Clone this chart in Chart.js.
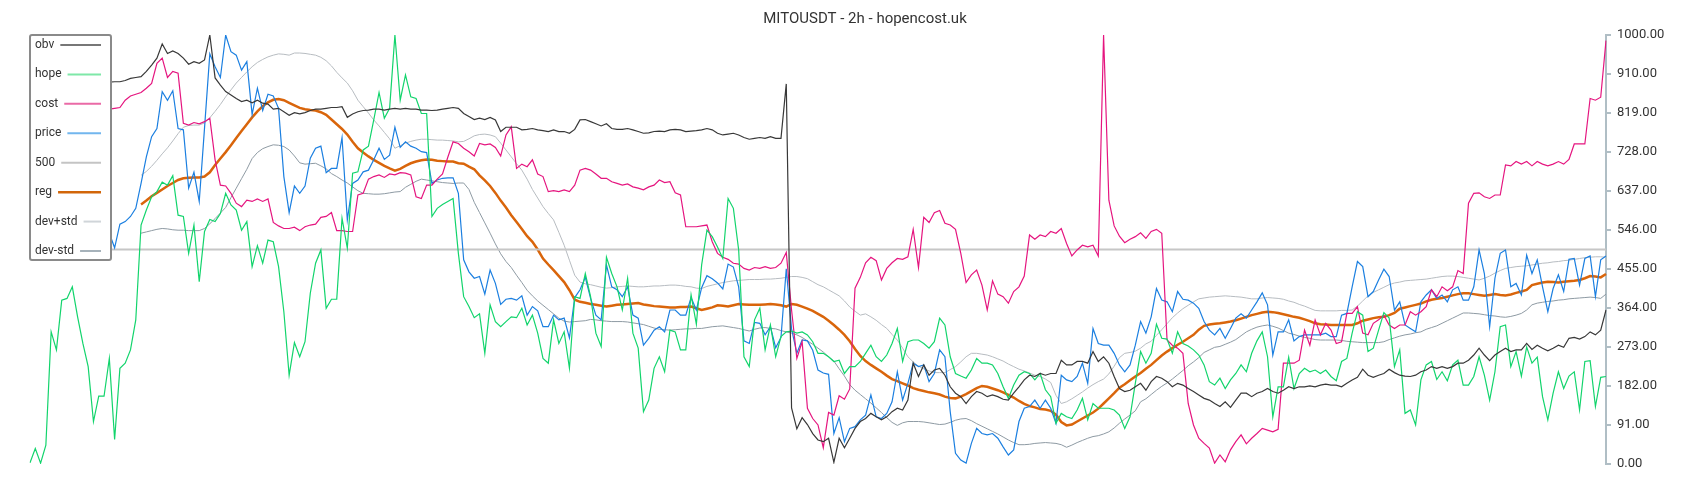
<!DOCTYPE html>
<html>
<head>
<meta charset="utf-8">
<script src="https://cdn.jsdelivr.net/npm/chart.js@4.4.0/dist/chart.umd.min.js"></script>
<style>
  html, body { margin: 0; padding: 0; background: #fff; }
  #wrap { width: 1700px; height: 500px; }
</style>
</head>
<body>
<div id="wrap"><canvas id="chart" width="1700" height="500"></canvas></div>
<script>
// Series values (299 bars of 2h data)
const hope = [
  3, 36, 2, 44, 308, 266, 382, 386, 413, 343,
  281, 227, 99, 158, 158, 246, 57, 223, 235, 266,
  336, 557, 592, 623, 635, 657, 650, 672, 580, 577,
  491, 557, 425, 542, 570, 565, 584, 631, 604, 592,
  545, 565, 460, 509, 468, 522, 518, 460, 355, 207,
  283, 250, 285, 398, 468, 499, 363, 384, 384, 573,
  503, 678, 681, 732, 741, 802, 866, 806, 829, 1000,
  848, 907, 856, 852, 817, 817, 577, 596, 605, 612,
  619, 491, 390, 367, 341, 350, 258, 371, 332, 320,
  332, 343, 341, 363, 324, 347, 305, 246, 235, 336,
  281, 308, 223, 390, 386, 444, 390, 305, 274, 482,
  444, 413, 359, 433, 305, 270, 122, 149, 223, 250,
  215, 312, 308, 266, 266, 394, 326, 464, 545, 530,
  506, 479, 619, 596, 499, 250, 227, 336, 363, 266,
  324, 250, 297, 308, 310, 305, 308, 301, 285, 258,
  258, 250, 239, 242, 211, 227, 227, 239, 258, 277,
  250, 239, 254, 281, 316, 239, 285, 289, 289, 281,
  270, 285, 340, 324, 250, 211, 205, 200, 219, 246,
  235, 235, 231, 211, 180, 153, 184, 207, 215, 211,
  196, 211, 173, 157, 95, 118, 110, 106, 126, 153,
  103, 141, 130, 130, 130, 126, 114, 83, 110, 188,
  262, 235, 258, 326, 293, 291, 258, 308, 281, 275,
  266, 254, 231, 192, 184, 200, 176, 196, 211, 231,
  215, 258, 287, 308, 250, 110, 180, 180, 249, 176,
  211, 223, 215, 219, 211, 219, 204, 194, 239, 246,
  305, 355, 347, 262, 270, 312, 353, 340, 227, 266,
  118, 126, 91, 196, 231, 239, 197, 215, 194, 231,
  242, 184, 184, 204, 250, 207, 149, 215, 320, 324,
  227, 262, 205, 273, 235, 249, 157, 103, 165, 215,
  176, 205, 215, 126, 239, 241, 134, 202, 204
];

const price = [
  null, null, null, null, null, null, null, null, null, null,
  null, null, null, null, null, 538, 504, 559, 565, 577,
  596, 654, 716, 763, 782, 868, 848, 870, 782, 779,
  643, 680, 612, 783, 956, 926, 901, 1000, 961, 953,
  918, 938, 815, 876, 824, 862, 858, 829, 670, 586,
  648, 631, 648, 713, 736, 741, 679, 689, 689, 761,
  569, 654, 662, 681, 685, 709, 736, 710, 720, 785,
  738, 751, 741, 736, 728, 726, 654, 662, 666, 667,
  667, 631, 476, 448, 433, 437, 396, 452, 421, 372,
  384, 386, 382, 392, 347, 367, 357, 320, 320, 347,
  336, 340, 294, 388, 406, 435, 386, 347, 336, 464,
  413, 406, 390, 413, 347, 340, 277, 293, 312, 320,
  308, 359, 359, 347, 347, 388, 359, 411, 439, 432,
  422, 408, 466, 459, 413, 287, 281, 330, 328, 301,
  320, 271, 295, 455, 315, 258, 289, 287, 265, 219,
  212, 209, 71, 108, 52, 83, 87, 103, 114, 161,
  110, 106, 118, 145, 215, 149, 188, 235, 227, 231,
  192, 211, 266, 250, 122, 25, 9, 2, 48, 83,
  71, 68, 71, 60, 40, 21, 33, 99, 130, 134,
  149, 130, 149, 130, 95, 207, 196, 192, 204, 235,
  188, 316, 281, 277, 277, 258, 231, 215, 231, 277,
  332, 305, 343, 409, 382, 378, 355, 402, 384, 382,
  375, 363, 332, 312, 301, 316, 293, 316, 340, 350,
  340, 359, 378, 399, 371, 254, 308, 308, 336, 287,
  297, 301, 301, 301, 301, 305, 297, 297, 347, 351,
  413, 472, 460, 390, 402, 429, 454, 437, 359, 378,
  324, 316, 308, 378, 394, 406, 386, 394, 378, 406,
  413, 382, 382, 413, 499, 444, 320, 433, 491, 499,
  413, 421, 394, 487, 444, 476, 413, 355, 409, 441,
  402, 477, 479, 417, 479, 485, 390, 476, 485
];

const cost = [
  null, null, null, null, null, null, null, null, null, null,
  null, null, null, null, null, 827, 829, 831, 848, 858,
  862, 866, 876, 887, 934, 946, 901, 915, 911, 794,
  790, 796, 793, 798, 806, 709, 650, 648, 631, 608,
  600, 615, 612, 618, 612, 618, 563, 555, 549, 549,
  552, 544, 553, 557, 559, 575, 577, 586, 544, 544,
  542, 542, 627, 631, 664, 670, 674, 668, 676, 674,
  679, 678, 674, 623, 619, 650, 650, 664, 676, 715,
  751, 747, 736, 728, 718, 747, 744, 746, 738, 718,
  767, 786, 689, 699, 693, 709, 676, 670, 635, 637,
  635, 639, 635, 650, 685, 689, 685, 676, 666, 666,
  658, 654, 650, 653, 646, 643, 639, 646, 650, 662,
  656, 658, 632, 627, 553, 553, 553, 555, 557, 518,
  491, 482, 477, 468, 466, 456, 452, 458, 456, 460,
  456, 458, 468, 493, 359, 246, 285, 130, 106, 91,
  38, 120, 114, 159, 151, 175, 410, 435, 469, 482,
  474, 429, 456, 469, 479, 477, 483, 547, 458, 575,
  563, 586, 591, 561, 557, 547, 491, 423, 441, 452,
  417, 359, 427, 396, 390, 375, 402, 413, 438, 534,
  524, 534, 530, 542, 538, 549, 514, 485, 499, 510,
  506, 510, 485, 1000, 615, 555, 531, 516, 524, 530,
  539, 526, 542, 547, 538, 289, 277, 270, 258, 141,
  91, 60, 48, 37, 2, 21, 5, 33, 52, 68,
  47, 60, 71, 83, 79, 75, 81, 235, 235, 235,
  242, 312, 277, 336, 301, 328, 312, 281, 285, 351,
  351, 367, 305, 301, 328, 336, 347, 324, 316, 324,
  324, 355, 347, 355, 367, 406, 390, 413, 404, 413,
  451, 444, 608, 631, 632, 623, 619, 627, 627, 697,
  695, 705, 699, 705, 695, 705, 699, 695, 699, 705,
  699, 710, 746, 746, 746, 852, 848, 855, 987
];

const obv = [
  null, null, null, null, null, null, null, null, null, null,
  null, null, null, null, null, 890, 891, 891, 894, 899,
  901, 903, 915, 930, 946, 979, 957, 963, 957, 946,
  932, 938, 934, 942, 1000, 900, 883, 868, 860, 852,
  845, 848, 842, 848, 841, 839, 827, 829, 821, 813,
  819, 816, 819, 824, 827, 827, 829, 831, 831, 833,
  808, 816, 821, 824, 825, 827, 827, 825, 827, 829,
  827, 829, 827, 827, 825, 825, 824, 825, 827, 829,
  831, 829, 817, 810, 803, 806, 803, 808, 802, 775,
  785, 785, 785, 779, 780, 782, 779, 777, 775, 779,
  775, 775, 771, 780, 802, 803, 798, 793, 788, 793,
  782, 780, 780, 782, 779, 775, 771, 772, 775, 776,
  775, 779, 780, 779, 775, 776, 777, 779, 782, 779,
  771, 767, 769, 771, 767, 761, 757, 759, 761, 759,
  763, 759, 759, 886, 131, 82, 108, 92, 71, 56,
  52, 60, 4, 60, 38, 60, 83, 99, 106, 118,
  110, 103, 110, 122, 130, 126, 149, 235, 204, 231,
  207, 219, 223, 207, 180, 165, 157, 141, 157, 169,
  165, 157, 161, 157, 151, 149, 165, 180, 196, 207,
  204, 211, 207, 211, 211, 242, 231, 231, 239, 239,
  235, 262, 239, 250, 235, 204, 176, 169, 172, 180,
  188, 172, 192, 204, 200, 192, 180, 188, 184, 176,
  169, 161, 153, 149, 141, 134, 145, 132, 149, 165,
  165, 157, 165, 169, 176, 169, 165, 172, 180, 176,
  180, 180, 182, 180, 184, 186, 184, 184, 180, 188,
  196, 202, 221, 207, 202, 207, 211, 221, 213, 207,
  205, 204, 207, 215, 219, 227, 223, 227, 223, 227,
  235, 235, 242, 254, 270, 254, 241, 254, 262, 270,
  262, 266, 266, 281, 267, 277, 270, 264, 270, 277,
  272, 293, 295, 291, 297, 308, 301, 312, 359
];

const reg = [
  null, null, null, null, null, null, null, null, null, null,
  null, null, null, null, null, null, null, null, null, null,
  null, 605, 614, 624, 632, 640, 648, 655, 662, 666,
  667, 668, 668, 670, 680, 697, 712, 727, 743, 760,
  776, 792, 808, 822, 834, 843, 849, 851, 848, 842,
  836, 830, 827, 825, 824, 820, 814, 803, 792, 781,
  768, 751, 736, 726, 717, 709, 702, 695, 689, 684,
  688, 695, 701, 705, 708, 710, 709, 707, 706, 705,
  705, 701, 700, 693, 687, 673, 661, 648, 632, 614,
  598, 580, 564, 548, 531, 518, 500, 479, 465, 452,
  438, 424, 405, 383, 378, 376, 373, 371, 369, 367,
  369, 371, 372, 373, 374, 375, 372, 370, 368, 367,
  366, 365, 365, 366, 366, 367, 363, 359, 362, 365,
  370, 369, 367, 370, 373, 372, 371, 371, 371, 372,
  373, 372, 370, 367, 373, 371, 367, 362, 357, 350,
  343, 334, 324, 313, 301, 286, 268, 252, 240, 231,
  223, 215, 206, 198, 193, 188, 183, 177, 173, 170,
  167, 165, 162, 157, 154, 153, 157, 163, 170, 177,
  182, 180, 176, 172, 167, 161, 155, 147, 140, 135,
  132, 128, 127, 124, 115, 98, 90, 92, 99, 106,
  113, 120, 129, 141, 153, 165, 178, 186, 195, 204,
  212, 222, 231, 242, 253, 262, 270, 278, 285, 293,
  301, 313, 322, 325, 327, 328, 330, 332, 335, 339,
  343, 347, 350, 353, 355, 354, 352, 349, 346, 343,
  341, 337, 333, 328, 326, 325, 324, 324, 324, 324,
  324, 328, 334, 337, 340, 342, 343, 347, 352, 362,
  365, 368, 371, 374, 379, 383, 385, 387, 390, 393,
  396, 398, 398, 396, 394, 392, 394, 396, 394, 393,
  395, 399, 402, 406, 417, 420, 423, 425, 424, 423,
  425, 426, 427, 429, 433, 438, 437, 435, 443
];

const devPlus = [
  null, null, null, null, null, null, null, null, null, null,
  null, null, null, null, null, null, null, null, null, null,
  null, 673, 682, 694, 708, 723, 737, 753, 770, 785,
  789, 790, 790, 795, 807, 822, 838, 856, 872, 888,
  901, 914, 926, 936, 943, 949, 953, 956, 955, 953,
  958, 958, 957, 955, 953, 948, 940, 928, 913, 900,
  888, 870, 848, 833, 818, 802, 788, 773, 758, 736,
  742, 748, 752, 755, 757, 757, 756, 755, 755, 754,
  753, 751, 752, 758, 765, 768, 769, 767, 763, 748,
  732, 716, 700, 685, 664, 640, 620, 600, 584, 569,
  540, 510, 475, 440, 424, 420, 418, 415, 412, 410,
  411, 413, 414, 415, 414, 413, 413, 414, 415, 415,
  416, 417, 417, 416, 414, 413, 410, 409, 414, 417,
  420, 423, 425, 427, 428, 429, 430, 430, 430, 431,
  431, 432, 433, 435, 437, 437, 435, 432, 425, 418,
  413, 406, 399, 392, 380, 366, 356, 347, 350, 343,
  335, 325, 316, 302, 289, 270, 250, 238, 228, 222,
  217, 213, 213, 213, 220, 227, 238, 250, 258, 258,
  256, 254, 250, 245, 240, 233, 227, 221, 217, 212,
  207, 204, 198, 190, 160, 141, 145, 152, 160, 168,
  177, 185, 192, 198, 210, 228, 248, 258, 260, 263,
  270, 280, 286, 300, 313, 327, 341, 352, 362, 370,
  378, 385, 387, 389, 390, 391, 392, 391, 390, 389,
  387, 385, 385, 387, 388, 387, 386, 384, 380, 377,
  372, 368, 363, 358, 357, 357, 357, 357, 358, 358,
  359, 368, 380, 392, 400, 406, 412, 418, 422, 424,
  427, 428, 429, 430, 431, 433, 435, 437, 438, 438,
  437, 435, 433, 431, 429, 433, 438, 445, 451, 456,
  458, 460, 461, 462, 464, 466, 468, 469, 471, 472,
  474, 475, 477, 479, 481, 482, 483, 483, 482
];

const devMinus = [
  null, null, null, null, null, null, null, null, null, null,
  null, null, null, null, null, null, null, null, null, null,
  null, 538, 541, 544, 547, 549, 548, 546, 545, 545,
  544, 544, 544, 549, 560, 572, 585, 598, 621, 643,
  665, 687, 712, 726, 735, 740, 744, 743, 740, 732,
  718, 702, 699, 700, 701, 695, 688, 677, 670, 662,
  655, 646, 637, 631, 630, 629, 629, 630, 632, 634,
  635, 645, 652, 659, 664, 662, 660, 658, 656, 655,
  654, 655, 655, 640, 610, 586, 562, 538, 513, 490,
  472, 458, 440, 423, 405, 392, 380, 370, 360, 350,
  340, 333, 331, 332, 333, 334, 337, 336, 334, 333,
  332, 332, 332, 331, 329, 327, 325, 321, 317, 314,
  313, 312, 313, 314, 315, 315, 316, 316, 318, 320,
  321, 322, 320, 318, 316, 313, 310, 314, 317, 318,
  316, 315, 311, 308, 305, 301, 295, 287, 279, 270,
  261, 250, 240, 222, 205, 185, 172, 162, 152, 142,
  131, 120, 108, 97, 90, 96, 99, 99, 99, 98,
  96, 94, 92, 93, 97, 102, 105, 106, 101, 94,
  88, 82, 76, 70, 63, 56, 50, 45, 45, 46,
  48, 49, 50, 49, 48, 45, 39, 44, 50, 55,
  60, 64, 66, 70, 75, 84, 95, 105, 114, 124,
  145, 152, 162, 172, 181, 189, 198, 208, 218, 229,
  238, 248, 260, 266, 272, 274, 279, 284, 290, 299,
  308, 314, 319, 322, 324, 321, 317, 311, 305, 302,
  298, 295, 293, 290, 289, 289, 289, 289, 288, 286,
  285, 284, 283, 283, 283, 283, 285, 290, 294, 298,
  301, 303, 306, 308, 314, 318, 322, 328, 334, 340,
  346, 352, 352, 351, 350, 348, 346, 345, 343, 342,
  344, 347, 351, 359, 371, 375, 377, 379, 380, 382,
  383, 385, 386, 387, 388, 389, 388, 386, 396
];

// flat reference level, first and last bar
const line500 = [{ x: 0, y: 500 }, { x: 298, y: 500 }];

const labels = hope.map((_, i) => i);
const yTicks = [0, 91, 182, 273, 364, 455, 546, 637, 728, 819, 910, 1000];

const legendItems = [
  { text: 'obv', color: '#777777', width: 2 },
  { text: 'hope', color: '#7ee8a8', width: 2 },
  { text: 'cost', color: '#ea6aa6', width: 2 },
  { text: 'price', color: '#72b6ee', width: 2 },
  { text: '500', color: '#c4c4c4', width: 2 },
  { text: 'reg', color: '#d2660a', width: 2.5 },
  { text: 'dev+std', color: '#d0d5d9', width: 2 },
  { text: 'dev-std', color: '#a6b2ba', width: 2 }
];

// Boxed legend drawn inside the plot, top-left
const boxLegend = {
  id: 'boxLegend',
  afterDraw(chart) {
    const ctx = chart.ctx;
    const x0 = 30, y0 = 35, w = 81, h = 225;
    ctx.save();
    ctx.fillStyle = '#ffffff';
    ctx.strokeStyle = '#8a8a8a';
    ctx.lineWidth = 2;
    ctx.beginPath();
    ctx.roundRect(x0, y0, w, h, 2);
    ctx.fill();
    ctx.stroke();
    ctx.font = '12px Roboto, "Noto Sans", sans-serif';
    ctx.textBaseline = 'middle';
    ctx.textAlign = 'left';
    legendItems.forEach((item, k) => {
      const y = 45 + k * 29.43;
      ctx.fillStyle = '#333333';
      ctx.fillText(item.text, 35, y);
      const tw = ctx.measureText(item.text).width;
      ctx.strokeStyle = item.color;
      ctx.lineWidth = item.width;
      ctx.beginPath();
      ctx.moveTo(35 + tw + 6, y);
      ctx.lineTo(101, y);
      ctx.stroke();
    });
    ctx.restore();
  }
};

function series(label, data, color, width) {
  return {
    label: label,
    data: data,
    borderColor: color,
    backgroundColor: color,
    borderWidth: width,
    pointRadius: 0,
    tension: 0,
    fill: false
  };
}

new Chart(document.getElementById('chart'), {
  type: 'line',
  data: {
    labels: labels,
    datasets: [
      series('obv', obv, '#383838', 1.2),
      series('hope', hope, '#12d46c', 1.2),
      series('cost', cost, '#e5157f', 1.2),
      series('price', price, '#1b7fe0', 1.2),
      series('500', line500, '#c6c6c6', 2),
      series('reg', reg, '#d9650b', 2.5),
      series('dev+std', devPlus, '#b7bcc1', 1),
      series('dev-std', devMinus, '#8e9aa3', 1)
    ]
  },
  options: {
    responsive: false,
    animation: false,
    devicePixelRatio: 1,
    layout: { padding: { left: 30, right: 0, top: 0, bottom: 36 } },
    plugins: {
      legend: { display: false },
      tooltip: { enabled: false },
      title: {
        display: true,
        text: 'MITOUSDT - 2h - hopencost.uk',
        color: '#333',
        font: { family: 'Roboto, "Noto Sans", sans-serif', size: 15, weight: 'normal' },
        padding: { top: 10, bottom: 7 }
      }
    },
    scales: {
      x: { type: 'category', display: false },
      y: {
        position: 'right',
        min: 0,
        max: 1000,
        afterFit(scale) { scale.width = 94; },
        afterBuildTicks(scale) { scale.ticks = yTicks.map(v => ({ value: v })); },
        ticks: {
          color: '#333',
          padding: 6,
          font: { family: 'Roboto, "Noto Sans", sans-serif', size: 13 },
          callback: v => Number(v).toFixed(2)
        },
        grid: { drawOnChartArea: false, tickLength: 5, color: '#b0bec5', lineWidth: 2 },
        border: { color: '#b0bec5', width: 2 }
      }
    }
  },
  plugins: [boxLegend]
});
</script>
</body>
</html>
